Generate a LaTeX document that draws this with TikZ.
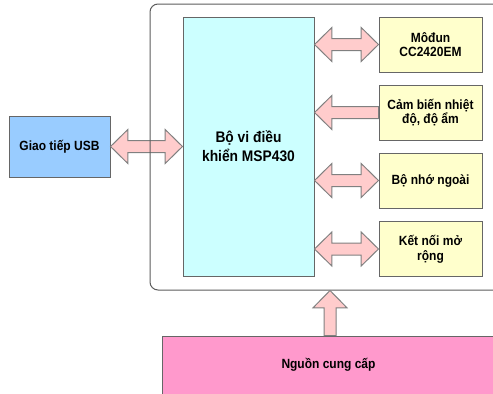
\documentclass[tikz,border=0pt]{standalone}
\usepackage{fontspec}
\setmainfont{Liberation Sans}[FakeStretch=0.9]
\usepackage{tikz}
\usetikzlibrary{calc,positioning}

\definecolor{mcufill}{HTML}{CCFFFF}
\definecolor{usbfill}{HTML}{99CCFF}
\definecolor{partfill}{HTML}{FFFFCC}
\definecolor{powerfill}{HTML}{FF99CC}
\definecolor{arrowfill}{HTML}{FFCCCC}
\definecolor{edgegray}{HTML}{666666}

% fat block arrows
\newdimen\headlen \headlen=13pt
\newdimen\headhalf \headhalf=12.75pt
\newdimen\shafthalf \shafthalf=4.5pt
\newcommand{\fatboth}[2]{%
  \draw[fatarrow] let \p1=#1, \p2=#2 in
    (\x1,\y1) -- (\x1+\headlen,\y1+\headhalf) -- (\x1+\headlen,\y1+\shafthalf)
    -- (\x2-\headlen,\y1+\shafthalf) -- (\x2-\headlen,\y1+\headhalf) -- (\x2,\y1)
    -- (\x2-\headlen,\y1-\headhalf) -- (\x2-\headlen,\y1-\shafthalf)
    -- (\x1+\headlen,\y1-\shafthalf) -- (\x1+\headlen,\y1-\headhalf) -- cycle;}
\newcommand{\fatleft}[2]{%
  \draw[fatarrow] let \p1=#1, \p2=#2 in
    (\x1,\y1) -- (\x1+\headlen,\y1+\headhalf) -- (\x1+\headlen,\y1+\shafthalf)
    -- (\x2,\y1+\shafthalf) -- (\x2,\y1-\shafthalf)
    -- (\x1+\headlen,\y1-\shafthalf) -- (\x1+\headlen,\y1-\headhalf) -- cycle;}
\newcommand{\fatup}[2]{%
  \draw[fatarrow] let \p1=#1, \p2=#2 in
    (\x1,\y1) -- (\x1+\headhalf,\y1-\headlen) -- (\x1+\shafthalf,\y1-\headlen)
    -- (\x1+\shafthalf,\y2) -- (\x1-\shafthalf,\y2)
    -- (\x1-\shafthalf,\y1-\headlen) -- (\x1-\headhalf,\y1-\headlen) -- cycle;}

\begin{document}
\begin{tikzpicture}[
  x=0.75pt, y=-0.75pt,
  every node/.style={draw=edgegray, line width=0.75pt, inner sep=0pt, align=center,
    font=\fontsize{10}{11}\selectfont\bfseries},
  block/.style={rectangle, minimum width=77.25pt, minimum height=41.25pt, fill=partfill},
  board/.style={rectangle, rounded corners=6pt, draw=edgegray!90!black, fill=none,
    minimum width=270pt, minimum height=214.5pt},
  fatarrow/.style={draw=gray, fill=arrowfill, line width=0.75pt, line join=miter}
]
\useasboundingbox (0,0) rectangle (493,393);
\clip (0,0) rectangle (493,393);

\node[rectangle, fill=mcufill, minimum width=98.25pt, minimum height=194.25pt,
  font=\fontsize{11.5}{14.5}\selectfont\bfseries] (mcu) at (248.5,146.5) {Bộ vi điều\\khiển MSP430};
\node[rectangle, fill=usbfill, minimum width=75.75pt, minimum height=45.75pt] (usb) at (59.5,146.5) {Giao tiếp USB};

\node[block] (radio) at (430.5,44.5) {Môđun\\CC2420EM};
\node[block] (sensor) at (430.5,112.5) {Cảm biến nhiệt\\độ, độ ẩm};
\node[block] (memory) at (430.5,180.5) {Bộ nhớ ngoài};
\node[block] (expand) at (430.5,249) {Kết nối mở\\rộng};

\node[rectangle, fill=powerfill, minimum width=249.75pt, minimum height=43.5pt] (power) at (328.5,365) {Nguồn cung cấp};

% links
\fatboth{(usb.east)}{(mcu.west |- usb.east)}
\fatboth{(mcu.east |- radio.west)}{(radio.west)}
\fatleft{(mcu.east |- sensor.west)}{(sensor.west)}
\fatboth{(mcu.east |- memory.west)}{(memory.west)}
\fatboth{(mcu.east |- expand.west)}{(expand.west)}

\node[board] (board) at (330,147) {};
\coordinate (feed) at (330,300);
\fatup{(feed |- board.south)}{(feed |- power.north)}
\end{tikzpicture}
\end{document}
